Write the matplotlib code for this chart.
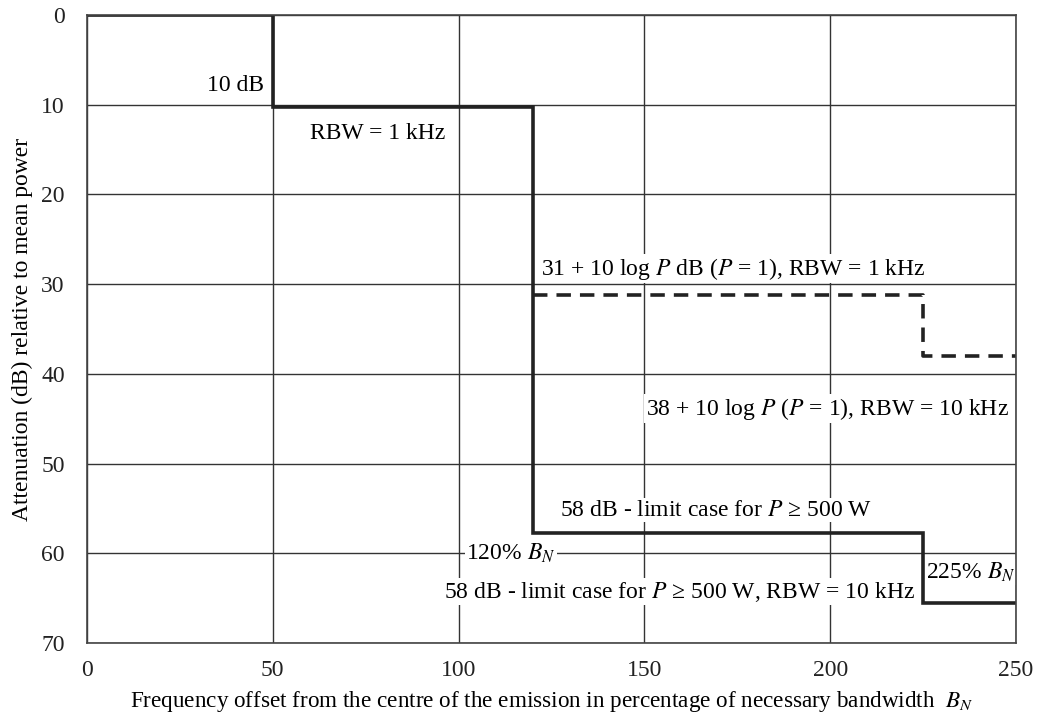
import matplotlib
matplotlib.use("Agg")
import matplotlib.pyplot as plt

plt.rcParams['font.family'] = ['Liberation Serif', 'DejaVu Serif']
plt.rcParams['mathtext.fontset'] = 'stix'

# mask for RBW = 1 kHz / 10 kHz limits
solid_x = [0, 50, 50, 120, 120, 225, 225, 250]
solid_y = [0, 0, 10.2, 10.2, 57.7, 57.7, 65.5, 65.5]
dash_x = [120, 225, 225, 250]
dash_y = [31.2, 31.2, 38, 38]

xticks = [0, 50, 100, 150, 200, 250]
yticks = [0, 10, 20, 30, 40, 50, 60, 70]

fig = plt.figure(figsize=(10.37, 7.2), dpi=100)
ax = fig.add_axes([87/1037, 1-643/720, 929/1037, 628/720])

ax.plot(solid_x, solid_y, color='#222222', lw=2.6, zorder=5, solid_joinstyle='miter')
ax.plot(dash_x, dash_y, color='#222222', lw=2.6, ls=(0, (4, 2.5)), zorder=5)

ax.set_xlim(0, 250)
ax.set_ylim(70, 0)
ax.set_xticks(xticks)
ax.set_yticks(yticks)
ax.grid(True, color='#333333', lw=1)
ax.tick_params(length=0, labelsize=17, colors='#222222')
ax.tick_params(axis='y', pad=16)
ax.tick_params(axis='x', pad=12)
for s in ax.spines.values():
    s.set_color('#444444')
    s.set_linewidth(1.2)
    s.set_zorder(6)

ax.set_ylabel("Attenuation (dB) relative to mean power", fontsize=17, labelpad=6)
ax.set_xlabel("Frequency offset from the centre of the emission in percentage of necessary bandwidth  $B_N$",
              fontsize=16.7, labelpad=6)

box = dict(facecolor='white', edgecolor='none', pad=1)
fs = 17
ax.text(47.5, 7.9, "10 dB", ha='right', va='center', fontsize=fs)
ax.text(78.3, 13.2, "RBW = 1 kHz", ha='center', va='center', fontsize=fs)
ax.text(174, 28.3, "31 + 10 log $P$ dB ($P$ = 1), RBW = 1 kHz", ha='center', va='center', fontsize=fs, bbox=box, zorder=4)
ax.text(150.3, 43.9, "38 + 10 log $P$ ($P$ = 1), RBW = 10 kHz", ha='left', va='center', fontsize=fs, bbox=box, zorder=4)
ax.text(169.4, 55.2, "58 dB - limit case for $P$ ≥ 500 W", ha='center', va='center', fontsize=fs, bbox=box, zorder=4)
ax.text(102, 60, "120% $B_N$", ha='left', va='center', fontsize=fs, bbox=box, zorder=4)
ax.text(159.5, 64.3, "58 dB - limit case for $P$ ≥ 500 W, RBW = 10 kHz", ha='center', va='center', fontsize=fs, bbox=box, zorder=4)
ax.text(225.9, 62.1, "225% $B_N$", ha='left', va='center', fontsize=fs, bbox=box, zorder=4)

fig.savefig("out.png", dpi=100)
